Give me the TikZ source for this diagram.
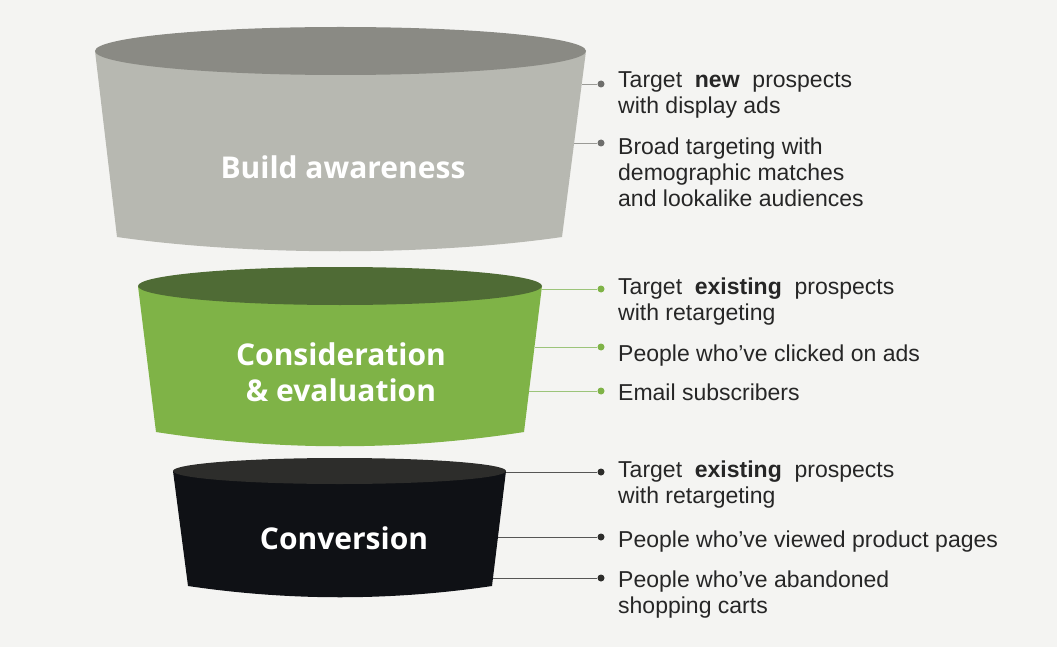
\documentclass[tikz,border=0pt]{standalone}
\usepackage{fontspec}
\setmainfont{Liberation Sans}
\newfontfamily\stagefont{Open Sans}
\usetikzlibrary{positioning}
\definecolor{bg}{HTML}{F4F4F2}
\definecolor{awaretop}{HTML}{8A8A84}
\definecolor{awarebody}{HTML}{B7B8B1}
\definecolor{awareline}{HTML}{9A9A96}
\definecolor{awaredot}{HTML}{6E6E6C}
\definecolor{considtop}{HTML}{4F6B35}
\definecolor{considbody}{HTML}{7FB347}
\definecolor{considline}{HTML}{9CC47A}
\definecolor{convtop}{HTML}{2D2D2B}
\definecolor{convbody}{HTML}{0F1115}
\definecolor{convline}{HTML}{555555}
\definecolor{txt}{HTML}{262626}

\begin{document}
\begin{tikzpicture}[x=1pt,y=-1pt,
    stage/.style={text=white, align=center, font=\stagefont\bfseries\fontsize{30}{36}\selectfont},
    item/.style={anchor=north west, inner sep=0pt, text=txt, align=left, font=\fontsize{23}{26}\selectfont},
    dot/.style={circle, fill=#1, inner sep=0pt, minimum size=7pt},
    link/.style={draw=#1, line width=0.9pt}]
    \useasboundingbox[fill=bg] (0,0) rectangle (1057,647);

    \fill[awarebody] (95,51) -- (117,237) .. controls (250,256) and (430,256) .. (562,237) -- (586,51) -- cycle;
    \fill[awaretop] (340.5,51) ellipse [x radius=245.5, y radius=24];
    \node[stage] (aware) at (343,167) {Build awareness};

    \fill[considbody] (138,286) -- (156,432) .. controls (278,451) and (402,451) .. (524,432) -- (542,286) -- cycle;
    \fill[considtop] (340,286) ellipse [x radius=202, y radius=19];
    \node[stage] (consid) at (341,372) {Consideration\\\&\ evaluation};

    \fill[convbody] (173,471) -- (188,586) .. controls (290,601) and (390,601) .. (492,586) -- (506,471) -- cycle;
    \fill[convtop] (339.5,471) ellipse [x radius=166.5, y radius=13];
    \node[stage] (conv) at (344,538) {Conversion};

    \coordinate (aware-e1) at (582,84);
    \coordinate (aware-e2) at (574,143);
    \node[dot=awaredot] (aware-d1) at (601,84) {};
    \node[dot=awaredot] (aware-d2) at (601,143) {};
    \draw[link=awareline] (aware-e1) -- (aware-d1);
    \draw[link=awareline] (aware-e2) -- (aware-d2);
    \node[item] (aware-t1) at (618,71) {Target\ \ \textbf{new}\ \ prospects\\with display ads};
    \node[item] (aware-t2) at (618,138) {Broad targeting with\\demographic matches\\and lookalike audiences};

    \coordinate (consid-e1) at (541.5,289);
    \coordinate (consid-e2) at (534.5,347);
    \coordinate (consid-e3) at (529,391);
    \node[dot=considbody] (consid-d1) at (601,289) {};
    \node[dot=considbody] (consid-d2) at (601,347) {};
    \node[dot=considbody] (consid-d3) at (601,391) {};
    \draw[link=considline] (consid-e1) -- (consid-d1);
    \draw[link=considline] (consid-e2) -- (consid-d2);
    \draw[link=considline] (consid-e3) -- (consid-d3);
    \node[item] (consid-t1) at (618,278) {Target\ \ \textbf{existing}\ \ prospects\\with retargeting};
    \node[item] (consid-t2) at (618,345) {People who’ve clicked on ads};
    \node[item] (consid-t3) at (618,384) {Email subscribers};

    \coordinate (conv-e1) at (506,472);
    \coordinate (conv-e2) at (498,537);
    \coordinate (conv-e3) at (493,578);
    \node[dot=convtop] (conv-d1) at (601,472) {};
    \node[dot=convtop] (conv-d2) at (601,537) {};
    \node[dot=convtop] (conv-d3) at (601,578) {};
    \draw[link=convline] (conv-e1) -- (conv-d1);
    \draw[link=convline] (conv-e2) -- (conv-d2);
    \draw[link=convline] (conv-e3) -- (conv-d3);
    \node[item] (conv-t1) at (618,461) {Target\ \ \textbf{existing}\ \ prospects\\with retargeting};
    \node[item] (conv-t2) at (618,531) {People who’ve viewed product pages};
    \node[item] (conv-t3) at (618,571) {People who’ve abandoned\\shopping carts};
\end{tikzpicture}
\end{document}
